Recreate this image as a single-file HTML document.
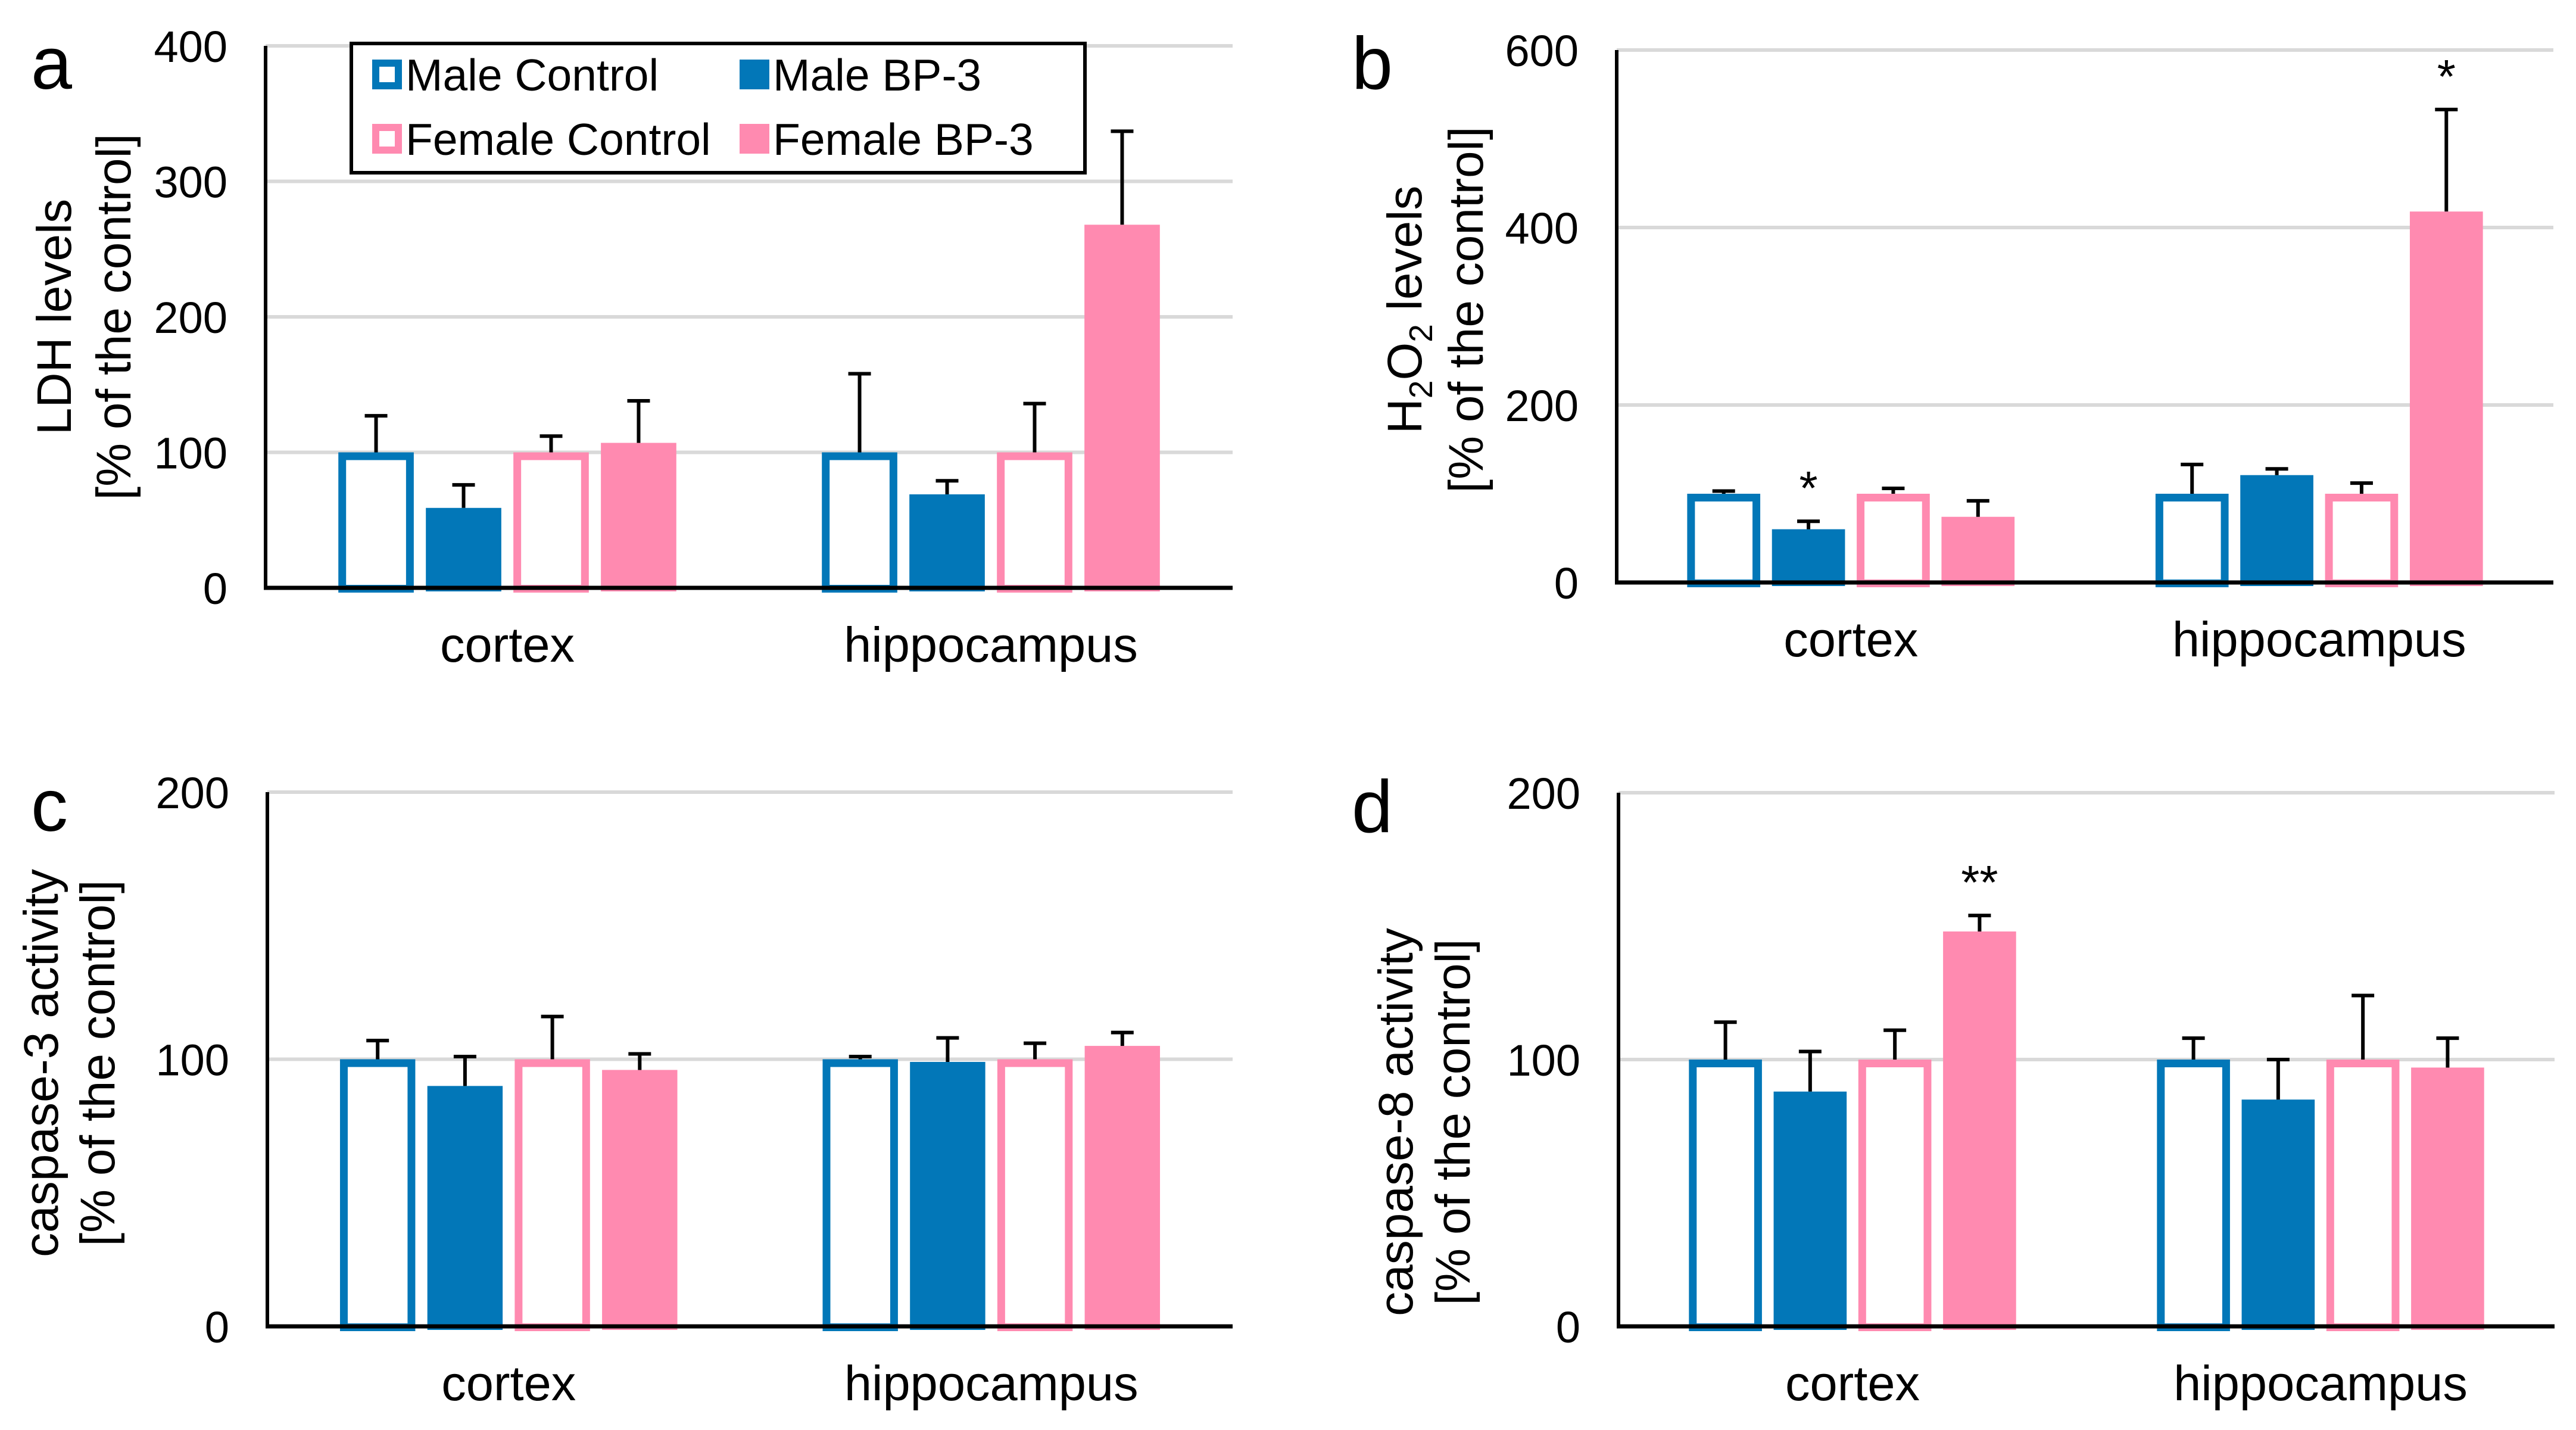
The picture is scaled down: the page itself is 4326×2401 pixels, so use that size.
<!DOCTYPE html>
<html><head><meta charset="utf-8">
<style>
html,body{margin:0;padding:0;background:#fff;}
svg{display:block;font-family:"Liberation Sans",Arial,sans-serif;}
</style></head>
<body>
<svg id="fig" width="4326" height="2401" viewBox="0 0 4326 2401" xmlns="http://www.w3.org/2000/svg"></svg>
<script>
const categories = ["cortex", "hippocampus"];
const seriesNames = ["Male Control", "Male BP-3", "Female Control", "Female BP-3"];
// panel a: LDH
const ldhValues = [[100, 59, 100, 107], [100, 69, 100, 268]];
const ldhErrTops = [[127, 76, 112, 138], [158, 79, 136, 337]];
const ldhTicks = [0, 100, 200, 300, 400];
// panel b: H2O2
const h2o2Values = [[100, 60, 100, 74], [100, 121, 100, 418]];
const h2o2ErrTops = [[103, 69, 106, 92], [133, 128, 112, 533]];
const h2o2Ticks = [0, 200, 400, 600];
const h2o2Stars = [[0, 1, "*"], [1, 3, "*"]];
// panel c: caspase-3
const casp3Values = [[100, 90, 100, 96], [100, 99, 100, 105]];
const casp3ErrTops = [[107, 101, 116, 102], [101, 108, 106, 110]];
const casp3Ticks = [0, 100, 200];
// panel d: caspase-8
const casp8Values = [[100, 88, 100, 148], [100, 85, 100, 97]];
const casp8ErrTops = [[114, 103, 111, 154], [108, 100, 124, 108]];
const casp8Ticks = [0, 100, 200];
const casp8Stars = [[0, 3, "**"]];

const BLUE = "#0277b8", PINK = "#ff8ab0";
const colors = [BLUE, BLUE, PINK, PINK];
const filled = [false, true, false, true];
const NS = "http://www.w3.org/2000/svg";
const svg = document.getElementById("fig");

function mk(tag, attrs, parent) {
  const e = document.createElementNS(NS, tag);
  for (const k in attrs) e.setAttribute(k, attrs[k]);
  (parent || svg).appendChild(e);
  return e;
}

function panel(cfg) {
  const g = mk("g", {});
  
  
  const ymax = cfg.ticks[cfg.ticks.length - 1];
  const yS = v => cfg.y0 - (v / ymax) * (cfg.y0 - cfg.yTop);
  const half = (cfg.x1 - cfg.x0) / 2;
  const pitch = half * 0.181, bw = half * 0.156;
  cfg.ticks.forEach(t => {
    if (t > 0) {
      const gl = mk("line", {x1: cfg.x0, x2: cfg.x1, y1: yS(t), y2: yS(t), stroke: "#d9d9d9", "stroke-width": 6}, g);
      
      
    }
    const tl = mk("text", {x: cfg.x0 - 64, y: yS(t) + 27, "font-size": 74, "text-anchor": "end", fill: "#000"}, g);
    tl.textContent = t;
    
    
  });
  categories.forEach((c, ci) => {
    const gc = cfg.x0 + half * ci + half / 2;
    const start = gc - (3 * pitch + bw) / 2;
    cfg.values[ci].forEach((v, si) => {
      const bx = start + si * pitch;
      const by = yS(v);
      const col = colors[si];
      let r;
      if (filled[si]) {
        r = mk("rect", {x: bx, y: by, width: bw, height: cfg.y0 + 6 - by, fill: col}, g);
      } else {
        const sw = 13;
        r = mk("rect", {x: bx + sw / 2, y: by + sw / 2, width: bw - sw, height: cfg.y0 + 8 - by - sw, fill: "#fff", stroke: col, "stroke-width": sw}, g);
      }
      
      
      const et = yS(cfg.errs[ci][si]);
      const cx = bx + bw / 2;
      const el = mk("path", {d: `M${cx},${by} V${et} M${cx - 19},${et} H${cx + 19}`, stroke: "#000", "stroke-width": 6, fill: "none"}, g);
      
      
    });
    const cl = mk("text", {x: gc, y: cfg.y0 + 124, "font-size": 83, "text-anchor": "middle", fill: "#000"}, g);
    cl.textContent = c;
    
    
  });
  (cfg.stars || []).forEach(s => {
    const ci = s[0], si = s[1];
    const gc = cfg.x0 + half * ci + half / 2;
    const start = gc - (3 * pitch + bw) / 2;
    const cx = start + si * pitch + bw / 2;
    const st = mk("text", {x: cx, y: yS(cfg.errs[ci][si]) - 28, "font-size": 80, "text-anchor": "middle", fill: "#000"}, g);
    st.textContent = s[2];
    
    
  });
  const ya = mk("line", {x1: cfg.x0, x2: cfg.x0, y1: cfg.yTop, y2: cfg.y0 + 3, stroke: "#000", "stroke-width": 6}, g);
  
  
  const xa = mk("line", {x1: cfg.x0 - 3, x2: cfg.x1, y1: cfg.y0, y2: cfg.y0, stroke: "#000", "stroke-width": 7}, g);
  
  
  const pl = mk("text", {x: cfg.lx, y: cfg.ly, "font-size": 124, fill: "#000"}, g);
  pl.textContent = cfg.letter;
  
  
  const t1 = mk("text", {x: 0, y: 0, "font-size": 82, "text-anchor": "middle", fill: "#000", transform: `translate(${cfg.t1x},${cfg.tcy}) rotate(-90)`}, g);
  if (cfg.title1 === "H2O2") {
    t1.innerHTML = 'H<tspan font-size="55" dy="18">2</tspan><tspan dy="-18">O</tspan><tspan font-size="55" dy="18">2</tspan><tspan dy="-18"> levels</tspan>';
  } else {
    t1.textContent = cfg.title1;
  }
  
  
  const t2 = mk("text", {x: 0, y: 0, "font-size": 82, "text-anchor": "middle", fill: "#000", transform: `translate(${cfg.t2x},${cfg.tcy}) rotate(-90)`}, g);
  t2.textContent = "[% of the control]";
  
  
}

panel({name: "panel-a-ldh", letter: "a", lx: 52, ly: 149, x0: 446, x1: 2070, y0: 987, yTop: 77,
  ticks: ldhTicks, values: ldhValues, errs: ldhErrTops, title1: "LDH levels", t1x: 119, t2x: 219, tcy: 532});
panel({name: "panel-b-h2o2", letter: "b", lx: 2270, ly: 149, x0: 2715, x1: 4288, y0: 978, yTop: 84,
  ticks: h2o2Ticks, values: h2o2Values, errs: h2o2ErrTops, stars: h2o2Stars, title1: "H2O2", t1x: 2387, t2x: 2490, tcy: 520});
panel({name: "panel-c-caspase3", letter: "c", lx: 52, ly: 1395, x0: 449, x1: 2070, y0: 2227, yTop: 1330,
  ticks: casp3Ticks, values: casp3Values, errs: casp3ErrTops, title1: "caspase-3 activity", t1x: 97, t2x: 192, tcy: 1785});
panel({name: "panel-d-caspase8", letter: "d", lx: 2270, ly: 1397, x0: 2718, x1: 4290, y0: 2227, yTop: 1331,
  ticks: casp8Ticks, values: casp8Values, errs: casp8ErrTops, stars: casp8Stars, title1: "caspase-8 activity", t1x: 2372, t2x: 2468, tcy: 1884});

const lg = mk("g", {});


const lb = mk("rect", {x: 590, y: 73, width: 1232, height: 217, fill: "#fff", stroke: "#000", "stroke-width": 6}, lg);


const legPos = [[625, 125], [1242, 125], [625, 233], [1242, 233]];
seriesNames.forEach((n, i) => {
  const [mx, my] = legPos[i];
  const e = mk("g", {}, lg);
  
  
  if (filled[i]) mk("rect", {x: mx, y: my - 25, width: 50, height: 50, fill: colors[i]}, e);
  else mk("rect", {x: mx + 6, y: my - 19, width: 38, height: 38, fill: "#fff", stroke: colors[i], "stroke-width": 12}, e);
  const t = mk("text", {x: mx + 56, y: my + 27, "font-size": 75, fill: "#000"}, e);
  t.textContent = n;
});
</script>
</body></html>
